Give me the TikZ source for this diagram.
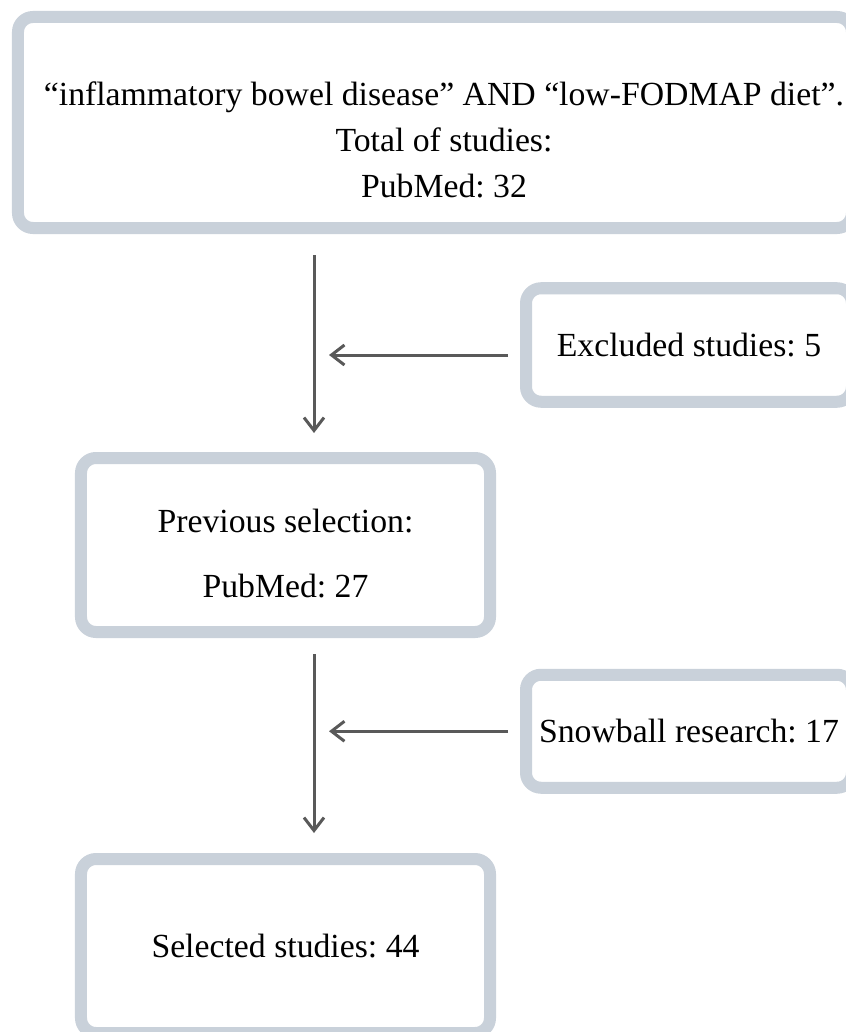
\documentclass[tikz,border=0pt]{standalone}
\usepackage{fontspec}
\setmainfont{Liberation Serif}
\usetikzlibrary{arrows.meta,positioning}
\definecolor{boxgrey}{HTML}{C9D1DA}
\definecolor{linegrey}{HTML}{595959}
\frenchspacing

\begin{document}
\begin{tikzpicture}[
  x=0.2mm, y=0.2mm,
  node distance=45mm,
  box/.style={draw=boxgrey, line width=2.4mm, rounded corners=3mm, fill=white,
              outer sep=0pt, inner sep=0pt, align=center,
              font=\fontsize{19.2}{26}\selectfont},
  arrow/.style={-{Straight Barb[length=2.6mm,width=4mm]}, linegrey, line width=0.6mm},
]
  \useasboundingbox (0,0) rectangle (846,-1032);

  %% ── Search ──
  \node[box, minimum width=166.8mm, minimum height=42.2mm] (search) at (435,-122.5) {%
    \begin{tabular}{@{\hspace{3.6mm}}c@{}}
      \rule{0pt}{41pt}“inflammatory bowel disease” AND “low-FODMAP diet”.\\
      Total of studies:\\
      PubMed: 32
    \end{tabular}};

  %% ── Previous selection ──
  \node[box, minimum width=81.8mm, minimum height=34.8mm] (prev) at (285.5,-545) {%
    \begin{tabular}{@{}c@{}}
      \rule{0pt}{31pt}Previous selection:\\[11pt]
      PubMed: 27
    \end{tabular}};

  %% ── Selected studies ──
  \node[box, minimum width=81.8mm, minimum height=34.8mm, below=45.4mm of prev] (sel)
    {Selected studies: 44};

  %% ── Side boxes ──
  \node[box, minimum width=65.2mm, minimum height=22.7mm] (excl) at (689,-345)
    {Excluded studies: 5};
  \node[box, minimum width=65.2mm, minimum height=22.6mm, below=54.6mm of excl] (snow)
    {Snowball research: 17};

  %% ── Arrows ──
  \coordinate (spine) at (314,0);
  \coordinate (exclin) at ([yshift=-2mm]excl.west);

  \draw[arrow, shorten <=5.4mm, shorten >=5mm] (search.south -| spine) -- (prev.north -| spine);
  \draw[arrow, shorten <=3.6mm, shorten >=3mm] (exclin) -- (exclin -| spine);

  \draw[arrow, shorten <=4.4mm, shorten >=5.2mm] (prev.south -| spine) -- (sel.north -| spine);
  \draw[arrow, shorten <=3.6mm, shorten >=3mm] (snow.west) -- (snow.west -| spine);

\end{tikzpicture}
\end{document}
